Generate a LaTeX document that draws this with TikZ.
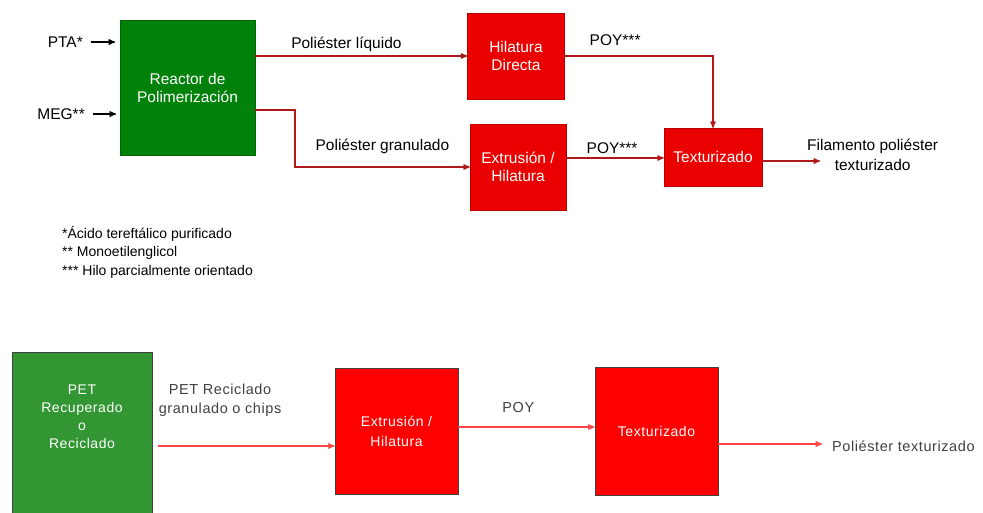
\documentclass[tikz,border=0pt]{standalone}
\usepackage{fontspec}
\setmainfont{Liberation Sans}
\usetikzlibrary{arrows}
\usetikzlibrary{positioning}
\definecolor{topgreen}{RGB}{0,130,10}
\definecolor{botgreen}{RGB}{50,150,50}
\definecolor{topred}{RGB}{235,0,0}
\definecolor{botred}{RGB}{255,0,0}
\definecolor{linedark}{RGB}{175,25,25}
\definecolor{linelight}{RGB}{255,70,70}
\newfontfamily\widefont[LetterSpace=4]{Liberation Sans}
\tikzset{
 topbox/.style={draw=#1!80!black, fill=#1, text=white, align=center, inner sep=0pt, font=\fontsize{15.5}{18}\selectfont},
 botbox/.style={draw=black!75, thick, fill=#1, text=white, align=center, inner sep=0pt, font=\widefont\fontsize{14}{20}\selectfont},
 toplbl/.style={align=center, inner sep=1pt, text=black, font=\fontsize{15.5}{20}\selectfont},
 botlbl/.style={align=center, inner sep=1pt, text=black!75, font=\widefont\fontsize{14.5}{19}\selectfont},
 topflow/.style={linedark, line width=1.3pt, ->, >=stealth'},
 botflow/.style={linelight, line width=1.3pt, ->, >=stealth'}
}
\begin{document}
\begin{tikzpicture}[x=1pt, y=-1pt]
\useasboundingbox (0,0) rectangle (983,512);
\node[topbox=topgreen, minimum width=135pt, minimum height=135pt] (reactor) at (187.5,87.5) {Reactor de\\Polimerización};
\node[topbox=topred, minimum width=97pt, minimum height=86pt] (hilDir) at (516,56) {Hilatura\\Directa};
\node[topbox=topred, minimum width=96pt, minimum height=86pt] (extTop) at (518,167) {Extrusión /\\Hilatura};
\node[topbox=topred, minimum width=98pt, minimum height=58pt] (texTop) at (713,157) {Texturizado};
\node[toplbl, anchor=east] (pta) at (84,42) {PTA*};
\node[toplbl, anchor=east] (meg) at (86,114) {MEG**};
\draw[black, line width=1.3pt, ->, >=stealth'] (pta.east) ++(7,0) -- (115,42);
\draw[black, line width=1.3pt, ->, >=stealth'] (meg.east) ++(7,0) -- (116,114);
\draw[topflow] (reactor.east |- hilDir.west) -- (hilDir.west) node[pos=0.43, above=3pt, toplbl] {Poliéster líquido};
\coordinate (bend) at (295,110);
\draw[topflow] (reactor.east |- bend) -- (bend) |- (extTop.west) node[pos=0.75, above=12pt, toplbl] {Poliéster granulado};
\draw[topflow] (hilDir.east) -| (texTop.north) node[pos=0.17, above=9pt, toplbl] {POY***};
\draw[topflow] (extTop.east |- 0,158) -- (texTop.west |- 0,158) node[pos=0.47, above=3pt, toplbl] {POY***};
\coordinate (outTop) at (820,161);
\draw[topflow] (texTop.east |- outTop) -- (outTop);
\node[toplbl, anchor=west] (filam) at (806,155) {Filamento poliéster\\texturizado};
\node[align=left, anchor=north west, inner sep=0pt, font=\fontsize{14}{18.5}\selectfont] (notes) at (62,226) {*Ácido tereftálico purificado\\** Monoetilenglicol\\*** Hilo parcialmente orientado};
\node[botbox=botgreen, minimum width=140pt, minimum height=166pt] (petRec) at (82,435) {};
\node[botlbl, text=white, font=\widefont\fontsize{14}{18}\selectfont] (petTxt) at (82,417) {PET\\Recuperado\\o\\Reciclado};
\node[botbox=botred, minimum width=123pt, minimum height=126pt] (extBot) at (396.5,431) {Extrusión /\\Hilatura};
\node[botbox=botred, minimum width=123pt, minimum height=128pt] (texBot) at (656.5,431) {Texturizado};
\draw[botflow] (petRec.east |- 0,446) ++(6,0) -- (extBot.west |- 0,446) node[pos=0.35, above=28pt, botlbl] {PET Reciclado\\granulado o chips};
\draw[botflow] (extBot.east |- 0,427) -- (texBot.west |- 0,427) node[pos=0.44, above=13pt, botlbl] {POY};
\coordinate (outBot) at (822,444);
\draw[botflow] (texBot.east |- outBot) -- (outBot);
\node[botlbl, anchor=west] (polTex) at (831,446) {Poliéster texturizado};
\end{tikzpicture}
\end{document}
